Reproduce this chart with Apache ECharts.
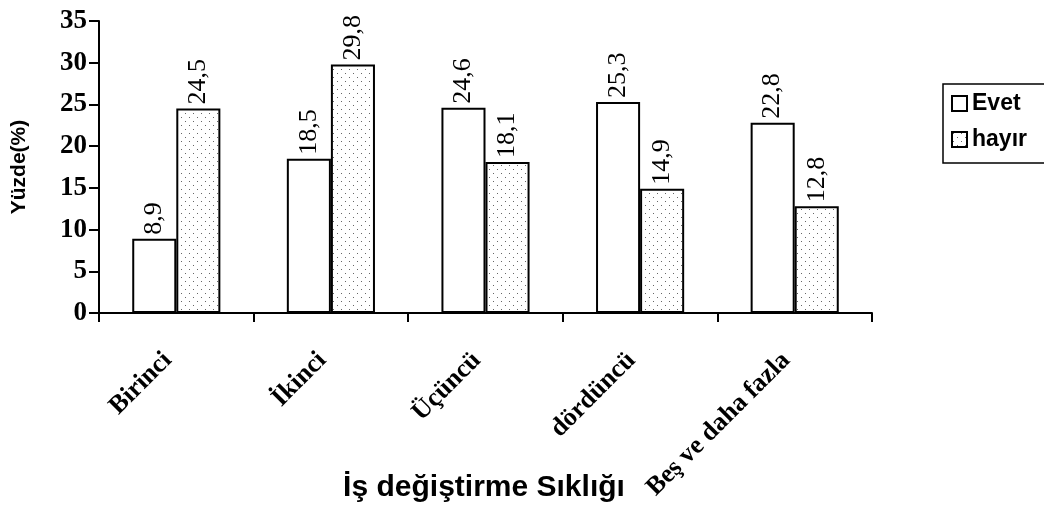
<!DOCTYPE html>
<html>
<head>
<meta charset="utf-8">
<script src="https://cdn.jsdelivr.net/npm/echarts@6/dist/echarts.min.js"></script>
<style>html,body{margin:0;padding:0;background:#fff;}#c{width:1044px;height:516px;}</style>
</head>
<body>
<div id="c"></div>
<script>
var categories = ['Birinci', 'İkinci', 'Üçüncü', 'dördüncü', 'Beş ve daha fazla'];
var evet = [8.9, 18.5, 24.6, 25.3, 22.8];
var hayir = [24.5, 29.8, 18.1, 14.9, 12.8];
var yTicks = [0, 5, 10, 15, 20, 25, 30, 35];
var xTitle = 'İş değiştirme Sıklığı';

var pc = document.createElement('canvas');
pc.width = 8; pc.height = 8;
var pctx = pc.getContext('2d');
pctx.fillStyle = '#ffffff'; pctx.fillRect(0, 0, 8, 8);
pctx.fillStyle = '#666666';
pctx.fillRect(1, 1, 1, 1);
pctx.fillRect(5, 5, 1, 1);

var chart = echarts.init(document.getElementById('c'));
var labelCommon = {
  show: true, position: 'top', rotate: 90, align: 'left', verticalAlign: 'middle',
  distance: 4, fontFamily: 'Liberation Serif', fontSize: 26, color: '#000',
  formatter: function (p) { return String(p.value).replace('.', ','); }
};
chart.setOption({
  animation: false,
  backgroundColor: '#fff',
  grid: { left: 99, right: 172, top: 21, bottom: 203, containLabel: false, outerBoundsMode: 'none' },
  legend: {
    orient: 'vertical', left: 943, top: 84,
    padding: [8, 40, 12, 8], itemGap: 13,
    borderColor: '#000', borderWidth: 1.5,
    itemWidth: 15, itemHeight: 15, icon: 'rect',
    textStyle: { fontFamily: 'Liberation Sans', fontWeight: 'bold', fontSize: 23, color: '#000' },
    data: ['Evet', 'hayır']
  },
  graphic: [{
    type: 'text', x: 484, y: 488,
    style: { text: xTitle, align: 'center', verticalAlign: 'middle',
      fontFamily: 'Liberation Sans', fontWeight: 'bold', fontSize: 30, fill: '#000' }
  }],
  xAxis: {
    type: 'category', data: categories,
    axisLine: { lineStyle: { color: '#000', width: 2 } },
    axisTick: { show: true, length: 9, lineStyle: { color: '#000', width: 2 } },
    axisLabel: { rotate: 45, margin: 35, padding: [0, 12, 0, 0], interval: 0, fontFamily: 'Liberation Serif', fontWeight: 'bold', fontSize: 26, color: '#000' }
  },
  yAxis: {
    type: 'value', min: 0, max: 35, interval: 5,
    axisLine: { show: true, lineStyle: { color: '#000', width: 2 } },
    axisTick: { show: true, length: 10, lineStyle: { color: '#000', width: 2 } },
    splitLine: { show: false },
    axisLabel: {
      margin: 12, fontFamily: 'Liberation Serif', fontWeight: 'bold', fontSize: 27, color: '#000',
      formatter: function (v) { return yTicks.indexOf(v) >= 0 ? String(v) : ''; }
    },
    name: 'Yüzde(%)', nameLocation: 'middle', nameGap: 69, nameRotate: 90,
    nameTextStyle: { fontFamily: 'Liberation Sans', fontWeight: 'bold', fontSize: 21, color: '#000' }
  },
  series: [
    {
      name: 'Evet', type: 'bar', data: evet, barGap: '0%', barCategoryGap: '43%',
      itemStyle: { color: '#ffffff', borderColor: '#000', borderWidth: 2 },
      label: labelCommon
    },
    {
      name: 'hayır', type: 'bar', data: hayir,
      itemStyle: { color: { image: pc, repeat: 'repeat' }, borderColor: '#000', borderWidth: 2 },
      label: labelCommon
    }
  ]
});
</script>
</body>
</html>
